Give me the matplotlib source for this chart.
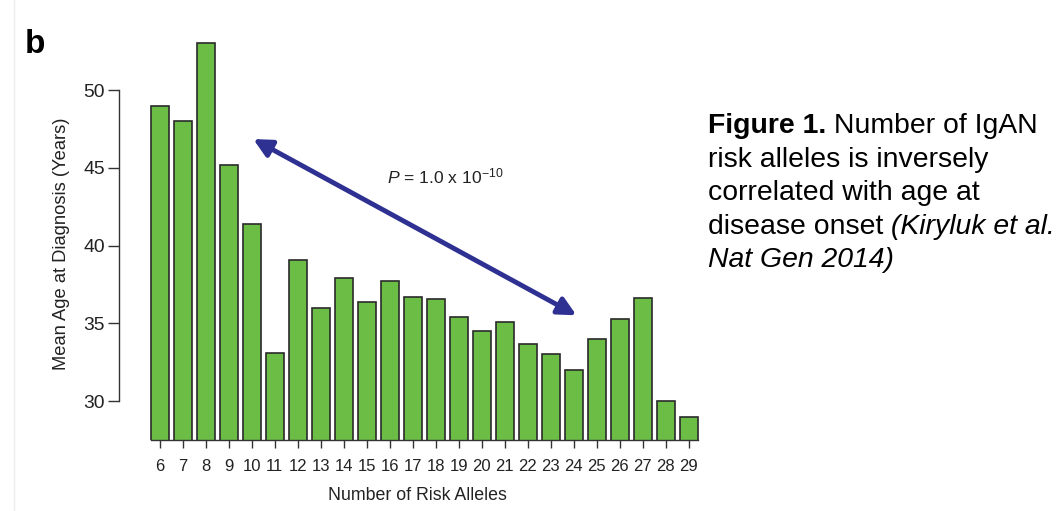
import numpy as np
import matplotlib
matplotlib.use('Agg')
import matplotlib.pyplot as plt

plt.rcParams['font.family'] = ['Liberation Sans', 'DejaVu Sans']
plt.rcParams['mathtext.fontset'] = 'custom'
plt.rcParams['mathtext.rm'] = 'Liberation Sans'
plt.rcParams['mathtext.it'] = 'Liberation Sans:italic'

# data
alleles = list(range(6, 30))
mean_age = [49.0, 48.0, 53.0, 45.2, 41.4, 33.1, 39.1, 36.0, 37.9, 36.4,
            37.75, 36.7, 36.55, 35.4, 34.5, 35.1, 33.65, 33.05, 32.0, 34.0,
            35.25, 36.6, 30.0, 29.0]
yticks = [30, 35, 40, 45, 50]
arrow_start = (10.06, 46.85)   # (alleles, years)
arrow_end = (24.12, 35.52)
p_label = r'$\mathit{P}$ = 1.0 x 10$^{\mathrm{-10}}$'

W, H = 1057, 511
fig = plt.figure(figsize=(W / 100, H / 100), dpi=100)
ax = fig.add_axes([119 / W, 71 / H, (699 - 119) / W, (470.7 - 71) / H])

ax.bar(alleles, mean_age, width=0.78, bottom=0, color='#6bbd45',
       edgecolor='#2a2a2a', linewidth=1.2, zorder=2)
ax.set_xlim(4.22, 29.45)
ax.set_ylim(27.5, 53.2)

for s in ['top', 'right']:
    ax.spines[s].set_visible(False)
ax.spines['left'].set_bounds(30, 50)
ax.spines['bottom'].set_bounds(5.6, 29.4)
for s in ['left', 'bottom']:
    ax.spines[s].set_color('#333333')
    ax.spines[s].set_linewidth(1.0)

ax.set_yticks(yticks)
ax.set_xticks(alleles)
ax.tick_params(axis='y', length=8, width=1.0, color='#333333', labelsize=13.9,
               pad=2, labelcolor='#222222')
ax.tick_params(axis='x', length=6, width=1.0, color='#333333', labelsize=12,
               pad=7.5, labelcolor='#222222')

ax.set_ylabel('Mean Age at Diagnosis (Years)', fontsize=13.2, color='#222222')
ax.yaxis.set_label_coords(-0.085, 0.49)
ax.set_xlabel('Number of Risk Alleles', fontsize=12.8, color='#222222')
ax.xaxis.set_label_coords(0.515, -0.117)

ax.annotate('', xy=arrow_start, xytext=arrow_end,
            arrowprops=dict(arrowstyle='<|-|>', color='#2e3192', lw=3.5,
                            mutation_scale=27, shrinkA=0, shrinkB=0))
ax.text(15.87, 44.02, p_label, fontsize=12.6, color='#222222', va='baseline')

fig.text(25 / W, 1 - 53 / H, 'b', fontsize=24, fontweight='bold',
         va='baseline', ha='left')

# faint border line at left of the original image
fig.add_artist(plt.Line2D([14 / W, 14 / W], [0, 1], color='#ececec', lw=1))

# caption on the right, mixed styles per line
cap_size = 20.4
x0 = 708 / W
baselines = [133, 167, 200, 234, 267]
lines = [
    [('Figure 1.', 'normal', 'bold'), (' Number of IgAN', 'normal', 'normal')],
    [('risk alleles is inversely', 'normal', 'normal')],
    [('correlated with age at', 'normal', 'normal')],
    [('disease onset', 'normal', 'normal'), (' (Kiryluk et al.', 'italic', 'normal')],
    [('Nat Gen 2014)', 'italic', 'normal')],
]
fig.canvas.draw()
renderer = fig.canvas.get_renderer()
for base, parts in zip(baselines, lines):
    x = x0
    for txt, style, weight in parts:
        t = fig.text(x, 1 - base / H, txt, fontsize=cap_size, style=style,
                     fontweight=weight, va='baseline', ha='left', color='black')
        bb = t.get_window_extent(renderer)
        x = bb.x1 / W

fig.savefig('out.png', dpi=100)
